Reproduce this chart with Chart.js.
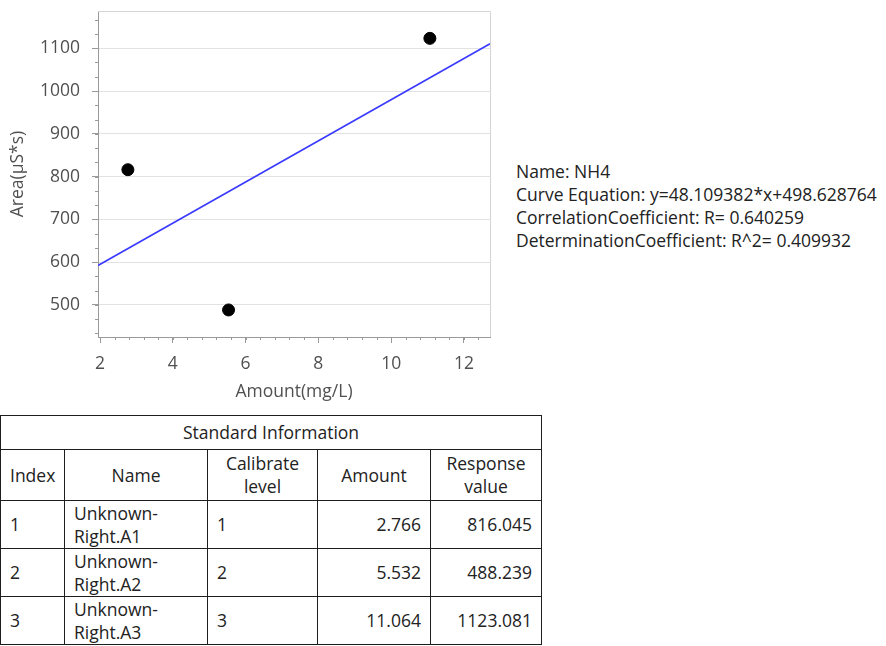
<!DOCTYPE html>
<html>
<head>
<meta charset="utf-8">
<script src="https://cdn.jsdelivr.net/npm/chart.js@4"></script>
<style>
  html, body {
    margin: 0;
    padding: 0;
    width: 886px;
    height: 646px;
    overflow: hidden;
    background: #ffffff;
    font-family: "Open Sans", "Noto Sans", sans-serif;
    color: #222222;
  }
  #chart-box {
    position: absolute;
    left: 0;
    top: 0;
    width: 500px;
    height: 410px;
  }
  #curve-info {
    position: absolute;
    left: 516px;
    top: 160px;
    font-size: 17.5px;
    line-height: 23px;
    white-space: nowrap;
  }
  #std-table {
    position: absolute;
    left: 0;
    top: 415px;
    width: 541px;
    table-layout: fixed;
    border-collapse: collapse;
    font-size: 17.5px;
    line-height: 23px;
  }
  #std-table td, #std-table th {
    border: 1px solid #1e1e1e;
    padding: 0 9px;
    font-weight: normal;
    white-space: nowrap;
  }
  #std-table th { text-align: center; }
  #std-table .num { text-align: right; }
</style>
</head>
<body>
<div id="chart-box"><canvas id="calib-chart"></canvas></div>
<div id="curve-info"></div>
<table id="std-table"></table>

<script>
// standards (also the scatter points)
const stdIndex = [1, 2, 3];
const stdNames = ["Unknown-Right.A1", "Unknown-Right.A2", "Unknown-Right.A3"];
const stdLevels = [1, 2, 3];
const stdAmounts = [2.766, 5.532, 11.064];
const stdResponses = [816.045, 488.239, 1123.081];

// fitted line, endpoints
const fitX = [1.945, 12.716];
const fitY = [592.2, 1110.4];

const xTicks = [2, 4, 6, 8, 10, 12];
const yTicks = [500, 600, 700, 800, 900, 1000, 1100];
const xRange = [1.945, 12.716];
const yRange = [425, 1187];
const xMinorStep = 0.4;
const yMinorStep = 100 / 3;

const infoLines = [
  "Name: NH4",
  "Curve Equation: y=48.109382*x+498.628764",
  "CorrelationCoefficient: R= 0.640259",
  "DeterminationCoefficient: R^2= 0.409932",
];

const tableTitle = "Standard Information";
const tableHeaders = ["Index", "Name", "Calibrate<br>level", "Amount", "Response<br>value"];

function fillInfo() {
  document.getElementById("curve-info").innerHTML = infoLines
    .map((line) => `<div>${line}</div>`)
    .join("");
}

function fillTable() {
  const widths = [64, 143, 110, 113, 111];
  const rows = [];
  rows.push(`<colgroup>${widths.map((w) => `<col style="width:${w}px">`).join("")}</colgroup>`);
  rows.push(`<tr style="height:34px"><th colspan="5">${tableTitle}</th></tr>`);
  rows.push(`<tr style="height:51px">${tableHeaders.map((h) => `<th>${h}</th>`).join("")}</tr>`);
  stdIndex.forEach((idx, i) => {
    const name = stdNames[i].replace("-", "-<br>");
    rows.push(
      `<tr style="height:48px"><td>${idx}</td><td>${name}</td><td>${stdLevels[i]}</td>` +
        `<td class="num">${stdAmounts[i].toFixed(3)}</td>` +
        `<td class="num">${stdResponses[i].toFixed(3)}</td></tr>`,
    );
  });
  document.getElementById("std-table").innerHTML = rows.join("");
}

// draws the grey frame on top/right and the minor tick marks
const framePlugin = {
  id: "frameAndMinorTicks",
  afterDraw(chart) {
    const { ctx, chartArea, scales } = chart;
    ctx.save();
    ctx.strokeStyle = "#d4d4d4";
    ctx.lineWidth = 1;
    ctx.beginPath();
    ctx.moveTo(chartArea.left, chartArea.top + 0.5);
    ctx.lineTo(chartArea.right + 0.5, chartArea.top + 0.5);
    ctx.lineTo(chartArea.right + 0.5, chartArea.bottom);
    ctx.stroke();

    ctx.strokeStyle = "#9a9a9a";
    ctx.beginPath();
    const x = scales.x;
    for (let v = xTicks[0] - xMinorStep * 5; v <= xRange[1]; v += xMinorStep) {
      if (v < xRange[0]) continue;
      const px = Math.round(x.getPixelForValue(v)) + 0.5;
      ctx.moveTo(px, chartArea.bottom);
      ctx.lineTo(px, chartArea.bottom + 3);
    }
    const y = scales.y;
    for (let v = yTicks[0] - yMinorStep * 3; v <= yRange[1]; v += yMinorStep) {
      if (v < yRange[0]) continue;
      const py = Math.round(y.getPixelForValue(v)) + 0.5;
      ctx.moveTo(chartArea.left - 3, py);
      ctx.lineTo(chartArea.left, py);
    }
    ctx.stroke();
    ctx.restore();
  },
};

function buildChart() {
  const tickFont = { family: "'Open Sans', 'Noto Sans', sans-serif", size: 17.5 };
  new Chart(document.getElementById("calib-chart"), {
    type: "scatter",
    data: {
      datasets: [
        {
          label: "Standards",
          data: stdAmounts.map((a, i) => ({ x: a, y: stdResponses[i] })),
          backgroundColor: "#000000",
          borderColor: "#000000",
          pointRadius: 6,
          order: 1,
        },
        {
          label: "Fit",
          data: fitX.map((a, i) => ({ x: a, y: fitY[i] })),
          showLine: true,
          borderColor: "#3b3bff",
          borderWidth: 1.6,
          pointRadius: 0,
          order: 2,
        },
      ],
    },
    options: {
      responsive: true,
      maintainAspectRatio: false,
      animation: false,
      layout: { padding: { top: 11, right: 10, left: 0, bottom: 0 } },
      plugins: { legend: { display: false }, tooltip: { enabled: false } },
      scales: {
        x: {
          type: "linear",
          min: xRange[0],
          max: xRange[1],
          afterBuildTicks: (scale) => {
            scale.ticks = xTicks.map((v) => ({ value: v }));
          },
          afterFit: (scale) => {
            scale.height = 73;
            scale.paddingLeft = 0;
            scale.paddingRight = 0;
          },
          grid: { drawOnChartArea: false, tickLength: 6, color: "#9a9a9a" },
          border: { color: "#9a9a9a" },
          ticks: {
            font: tickFont,
            color: "#505050",
            padding: 11,
            maxRotation: 0,
            callback: (v) => String(v),
          },
          title: {
            display: true,
            text: "Amount(mg/L)",
            font: tickFont,
            color: "#505050",
            padding: { top: 0, bottom: 7 },
          },
        },
        y: {
          type: "linear",
          min: yRange[0],
          max: yRange[1],
          afterBuildTicks: (scale) => {
            scale.ticks = yTicks.map((v) => ({ value: v }));
          },
          afterFit: (scale) => {
            scale.width = 98;
            scale.paddingTop = 0;
            scale.paddingBottom = 0;
          },
          grid: {
            color: "#e2e2e2",
            tickColor: "#9a9a9a",
            tickLength: 6,
          },
          border: { color: "#9a9a9a" },
          ticks: {
            font: tickFont,
            color: "#505050",
            padding: 12,
            callback: (v) => String(v),
          },
          title: {
            display: true,
            text: "Area(µS*s)",
            font: tickFont,
            color: "#505050",
            padding: { top: 8, bottom: 0 },
          },
        },
      },
    },
    plugins: [framePlugin],
  });
}

fillInfo();
fillTable();
buildChart();
</script>
</body>
</html>
